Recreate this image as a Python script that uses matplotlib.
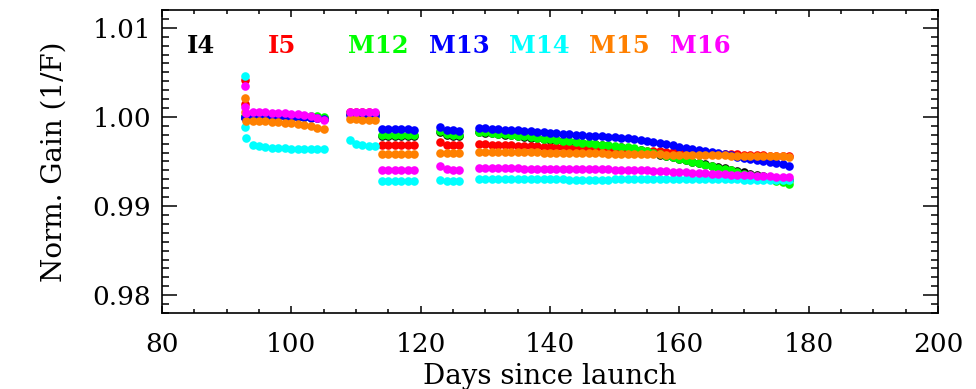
import matplotlib
matplotlib.use('Agg')
import matplotlib.pyplot as plt
from matplotlib.ticker import MultipleLocator

# days since launch (same sampling for every band)
days = [92.8, 92.9, 93, 94, 95, 96, 97, 98, 99, 100, 101, 102, 103, 104, 105,
        109, 110, 111, 112, 113,
        114, 115, 116, 117, 118, 119,
        123, 124, 125, 126,
        129, 130, 131, 132, 133, 134, 135, 136, 137, 138, 139, 140, 141, 142, 143,
        144, 145, 146, 147, 148, 149, 150, 151, 152, 153, 154, 155, 156, 157, 158,
        159, 160, 161, 162, 163, 164, 165, 166, 167, 168, 169, 170, 171, 172, 173,
        174, 175, 176, 177]

i4 = [1.0000, 1.0000, 1.0001, 1.0002, 1.0002, 1.0002, 1.0001, 1.0001, 1.0001, 1.0000,
      1.0000, 1.0000, 1.0000, 1.0000, 0.9999,
      1.0004, 1.0004, 1.0004, 1.0004, 1.0003,
      0.9979, 0.9979, 0.9979, 0.9979, 0.9979, 0.9979,
      0.9983, 0.9980, 0.9979, 0.9979,
      0.99831, 0.99823, 0.99815, 0.99808, 0.99800, 0.99792, 0.99784, 0.99777, 0.99769,
      0.99761, 0.99753, 0.99746, 0.99738, 0.99730, 0.99722, 0.99715, 0.99707, 0.99699,
      0.99691, 0.99684, 0.99676, 0.99668, 0.99660, 0.99653, 0.99645, 0.99628, 0.99612,
      0.99595, 0.99578, 0.99561, 0.99545, 0.99528, 0.99513, 0.99498, 0.99483, 0.99468,
      0.99453, 0.99438, 0.99423, 0.99408, 0.99393, 0.99378, 0.99364, 0.99350, 0.99337,
      0.99325, 0.99314, 0.99304, 0.99295]

i5 = [1.0041, 1.0015, 1.0003, 1.0004, 1.0004, 1.0004, 1.0003, 1.0003, 1.0002, 1.0002,
      1.0001, 1.0001, 1.0000, 0.9999, 0.9998,
      1.0005, 1.0005, 1.0005, 1.0005, 1.0004,
      0.9968, 0.9968, 0.9968, 0.9968, 0.9968, 0.9968,
      0.9972, 0.9969, 0.9969, 0.9969,
      0.99695, 0.99692, 0.99689, 0.99686, 0.99683, 0.99681, 0.99678, 0.99675, 0.99672,
      0.99669, 0.99666, 0.99663, 0.99660, 0.99658, 0.99655, 0.99652, 0.99649, 0.99646,
      0.99643, 0.99640, 0.99637, 0.99635, 0.99632, 0.99629, 0.99626, 0.99623, 0.99620,
      0.99617, 0.99614, 0.99612, 0.99609, 0.99606, 0.99603, 0.99600, 0.99597, 0.99594,
      0.99591, 0.99589, 0.99586, 0.99583, 0.99580, 0.99577, 0.99574, 0.99571, 0.99568,
      0.99566, 0.99563, 0.99560, 0.99557]

m12 = [1.0001, 1.0000, 1.0003, 1.0003, 1.0003, 1.0003, 1.0003, 1.0002, 1.0002, 1.0002,
       1.0002, 1.0001, 1.0001, 1.0001, 1.0000,
       1.0004, 1.0004, 1.0004, 1.0004, 1.0003,
       0.9980, 0.9980, 0.9980, 0.9980, 0.9980, 0.9980,
       0.9984, 0.9981, 0.9980, 0.9980,
       0.99836, 0.99828, 0.99820, 0.99813, 0.99805, 0.99797, 0.99789, 0.99782, 0.99774,
       0.99766, 0.99758, 0.99751, 0.99743, 0.99735, 0.99727, 0.99720, 0.99712, 0.99704,
       0.99696, 0.99689, 0.99681, 0.99673, 0.99665, 0.99658, 0.99650, 0.99633, 0.99617,
       0.99600, 0.99583, 0.99566, 0.99550, 0.99533, 0.99516, 0.99499, 0.99483, 0.99466,
       0.99449, 0.99432, 0.99416, 0.99399, 0.99382, 0.99365, 0.99349, 0.99332, 0.99315,
       0.99298, 0.99282, 0.99265, 0.99248]

m13 = [1.0000, 0.9999, 1.0002, 1.0002, 1.0002, 1.0002, 1.0001, 1.0001, 1.0001, 1.0000,
       1.0000, 1.0000, 0.9999, 0.9999, 0.9998,
       1.0002, 1.0002, 1.0002, 1.0001, 1.0001,
       0.9986, 0.9986, 0.9986, 0.9986, 0.9986, 0.9985,
       0.9989, 0.9985, 0.9985, 0.9984,
       0.99880, 0.99875, 0.99870, 0.99864, 0.99859, 0.99854, 0.99849, 0.99844, 0.99838,
       0.99833, 0.99828, 0.99823, 0.99817, 0.99812, 0.99807, 0.99802, 0.99797, 0.99791,
       0.99786, 0.99781, 0.99776, 0.99771, 0.99765, 0.99760, 0.99755, 0.99743, 0.99730,
       0.99718, 0.99705, 0.99693, 0.99680, 0.99668, 0.99655, 0.99643, 0.99630, 0.99618,
       0.99605, 0.99593, 0.99580, 0.99568, 0.99555, 0.99543, 0.99530, 0.99518, 0.99505,
       0.99493, 0.99480, 0.99468, 0.99455]

m14 = [1.0046, 0.9989, 0.9976, 0.9969, 0.9967, 0.9966, 0.9965, 0.9965, 0.9965, 0.9964,
       0.9964, 0.9964, 0.9964, 0.9964, 0.9964,
       0.9974, 0.9970, 0.9968, 0.9967, 0.9967,
       0.9928, 0.9928, 0.9928, 0.9928, 0.9928, 0.9928,
       0.9929, 0.9928, 0.9928, 0.9928,
       0.99307, 0.99306, 0.99305, 0.99305, 0.99304, 0.99303, 0.99303, 0.99302, 0.99301,
       0.99300, 0.99300, 0.99299, 0.99298, 0.99298, 0.99297, 0.99297, 0.99296, 0.99296,
       0.99296, 0.99297, 0.99297, 0.99298, 0.99299, 0.99300, 0.99301, 0.99301, 0.99302,
       0.99302, 0.99303, 0.99303, 0.99303, 0.99302, 0.99302, 0.99301, 0.99301, 0.99300,
       0.99300, 0.99299, 0.99299, 0.99298, 0.99298, 0.99297, 0.99297, 0.99296, 0.99296,
       0.99295, 0.99295, 0.99294, 0.99294]

m15 = [1.0021, 1.0006, 0.9995, 0.9995, 0.9995, 0.9995, 0.9994, 0.9994, 0.9993, 0.9993,
       0.9992, 0.9991, 0.9990, 0.9988, 0.9986,
       0.9998, 0.9998, 0.9997, 0.9997, 0.9997,
       0.9958, 0.9958, 0.9958, 0.9958, 0.9958, 0.9958,
       0.9960, 0.9959, 0.9959, 0.9959,
       0.99612, 0.99611, 0.99610, 0.99608, 0.99607, 0.99606, 0.99605, 0.99604, 0.99603,
       0.99601, 0.99600, 0.99599, 0.99598, 0.99597, 0.99596, 0.99594, 0.99593, 0.99592,
       0.99591, 0.99590, 0.99589, 0.99587, 0.99586, 0.99585, 0.99584, 0.99583, 0.99582,
       0.99580, 0.99579, 0.99578, 0.99577, 0.99576, 0.99575, 0.99573, 0.99572, 0.99571,
       0.99570, 0.99569, 0.99568, 0.99566, 0.99565, 0.99564, 0.99563, 0.99562, 0.99561,
       0.99559, 0.99558, 0.99557, 0.99556]

m16 = [1.0035, 1.0011, 1.0004, 1.0005, 1.0005, 1.0005, 1.0004, 1.0004, 1.0004, 1.0003,
       1.0003, 1.0002, 1.0001, 0.9999, 0.9997,
       1.0006, 1.0006, 1.0006, 1.0006, 1.0006,
       0.9941, 0.9941, 0.9941, 0.9941, 0.9941, 0.9941,
       0.9945, 0.9942, 0.9941, 0.9941,
       0.99427, 0.99426, 0.99425, 0.99425, 0.99424, 0.99423, 0.99422, 0.99421, 0.99421,
       0.99420, 0.99419, 0.99418, 0.99417, 0.99417, 0.99416, 0.99415, 0.99414, 0.99413,
       0.99413, 0.99412, 0.99411, 0.99410, 0.99409, 0.99409, 0.99408, 0.99404, 0.99401,
       0.99397, 0.99394, 0.99390, 0.99386, 0.99383, 0.99379, 0.99376, 0.99372, 0.99369,
       0.99365, 0.99361, 0.99358, 0.99354, 0.99351, 0.99347, 0.99343, 0.99340, 0.99336,
       0.99333, 0.99329, 0.99326, 0.99322]

bands = ['I4', 'I5', 'M12', 'M13', 'M14', 'M15', 'M16']
series = [i4, i5, m12, m13, m14, m15, m16]
colors = ['black', '#ff0000', '#00ff00', '#0000ff', '#00ffff', '#ff8000', '#ff00ff']
label_days = [86.1, 98.6, 113.4, 126.0, 138.4, 150.8, 163.3]

plt.rcParams['font.family'] = ['DejaVu Serif']

fig = plt.figure(figsize=(9.76, 3.89), dpi=100)
ax = fig.add_axes([0.166, 0.1954, 0.795, 0.7789])

for vals, c in zip(series, colors):
    ax.plot(days, vals, linestyle='none', marker='o', markersize=6.2,
            markeredgewidth=0, color=c)

for name, c, xd in zip(bands, colors, label_days):
    ax.text(xd, 1.0080, name, color=c, fontsize=17.5, fontweight='bold',
            ha='center', va='center')

ax.set_xlim(80, 200)
ax.set_ylim(0.978, 1.012)
ax.xaxis.set_major_locator(MultipleLocator(20))
ax.xaxis.set_minor_locator(MultipleLocator(5))
ax.yaxis.set_major_locator(MultipleLocator(0.01))
ax.yaxis.set_minor_locator(MultipleLocator(0.001))
ax.yaxis.set_major_formatter(plt.FormatStrFormatter('%.2f'))

ax.tick_params(axis='both', which='both', direction='in', top=True, right=True,
               width=1.1, colors='black')
ax.tick_params(axis='x', which='major', length=5, pad=14, labelsize=19)
ax.tick_params(axis='x', which='minor', length=3)
ax.tick_params(axis='y', which='major', length=11, pad=8, labelsize=19)
ax.tick_params(axis='y', which='minor', length=5)
for sp in ax.spines.values():
    sp.set_linewidth(1.2)

ax.set_xlabel('Days since launch', fontsize=20, labelpad=4)
ax.set_ylabel('Norm. Gain (1/F)', fontsize=20, labelpad=18)

fig.savefig('out.png', dpi=100)
